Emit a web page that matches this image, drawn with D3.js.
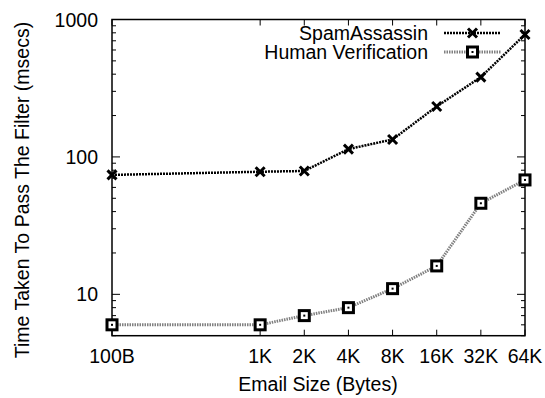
<!DOCTYPE html>
<html>
<head>
<meta charset="utf-8">
<script src="https://cdn.jsdelivr.net/npm/d3@7"></script>
<style>
body { margin: 0; background: #fff; }
text { font-family: "Liberation Sans", Arial, sans-serif; fill: #000; }
</style>
</head>
<body>
<script>
// email sizes in bytes
var sizes = [100, 1024, 2048, 4096, 8192, 16384, 32768, 65536];
var sizeLabels = ["100B", "1K", "2K", "4K", "8K", "16K", "32K", "64K"];
var spamAssassin = [74, 78, 79, 114, 134, 233, 381, 778];
var humanVerif = [6, 6, 7, 8, 11, 16.1, 46, 68];
var yMajor = [10, 100, 1000];

var width = 545, height = 398;
var plotL = 112, plotR = 525, plotT = 19.5, plotB = 335.7;
var fs = 19.5;

var svg = d3.select("body").append("svg")
    .attr("width", width)
    .attr("height", height);

var x = d3.scaleLog().base(2).domain([100, 65536]).range([plotL, plotR]);
var y = d3.scaleLog().domain([5, 1000]).range([plotB, plotT]);

// minor y ticks
var minor = [];
[1, 10, 100].forEach(function(d) {
	for (var k = 2; k <= 9; k++) {
		var v = d * k;
		if (v >= 5 && v <= 1000) minor.push(v);
	}
});

var g = svg.append("g").attr("stroke", "#000").attr("stroke-width", 1);
minor.forEach(function(v) {
	if (yMajor.indexOf(v) >= 0) return;
	g.append("line").attr("x1", plotL).attr("x2", plotL + 4).attr("y1", y(v)).attr("y2", y(v));
	g.append("line").attr("x1", plotR).attr("x2", plotR - 4).attr("y1", y(v)).attr("y2", y(v));
});
yMajor.forEach(function(v) {
	g.append("line").attr("x1", plotL).attr("x2", plotL + 8).attr("y1", y(v)).attr("y2", y(v));
	g.append("line").attr("x1", plotR).attr("x2", plotR - 8).attr("y1", y(v)).attr("y2", y(v));
	svg.append("text").attr("x", 98).attr("y", y(v) + 7)
		.attr("text-anchor", "end").attr("font-size", fs).text(v);
});
sizes.forEach(function(s, i) {
	g.append("line").attr("x1", x(s)).attr("x2", x(s)).attr("y1", plotB).attr("y2", plotB - 6);
	g.append("line").attr("x1", x(s)).attr("x2", x(s)).attr("y1", plotT).attr("y2", plotT + 6);
	svg.append("text").attr("x", x(s)).attr("y", 363.3)
		.attr("text-anchor", "middle").attr("font-size", fs).text(sizeLabels[i]);
});

// frame
svg.append("rect").attr("x", plotL).attr("y", plotT)
	.attr("width", plotR - plotL).attr("height", plotB - plotT)
	.attr("fill", "none").attr("stroke", "#000").attr("stroke-width", 1.5);

// axis titles
svg.append("text").attr("x", 318).attr("y", 391)
	.attr("text-anchor", "middle").attr("font-size", fs).text("Email Size (Bytes)");
svg.append("text").attr("transform", "translate(29,190) rotate(-90)")
	.attr("text-anchor", "middle").attr("font-size", fs).text("Time Taken To Pass The Filter (msecs)");

var line = d3.line().x(function(d) { return x(d[0]); }).y(function(d) { return y(d[1]); });

var spamPts = sizes.map(function(s, i) { return [s, spamAssassin[i]]; });
var humanPts = sizes.map(function(s, i) { return [s, humanVerif[i]]; });

function crossMark(sel, cx, cy) {
	var r = 4.5;
	sel.append("path")
		.attr("d", "M" + (cx - r) + "," + (cy - r) + "L" + (cx + r) + "," + (cy + r) +
			"M" + (cx - r) + "," + (cy + r) + "L" + (cx + r) + "," + (cy - r))
		.attr("stroke", "#000").attr("stroke-width", 3).attr("fill", "none");
}
function squareMark(sel, cx, cy) {
	sel.append("rect").attr("x", cx - 5).attr("y", cy - 5).attr("width", 10).attr("height", 10)
		.attr("fill", "#fff").attr("stroke", "#000").attr("stroke-width", 3);
	sel.append("rect").attr("x", cx - 1).attr("y", cy - 1).attr("width", 2).attr("height", 2)
		.attr("fill", "#000");
}

// Human Verification series
svg.append("path").datum(humanPts).attr("d", line)
	.attr("fill", "none").attr("stroke", "#808080").attr("stroke-width", 3)
	.attr("stroke-dasharray", "1.5,1");
var hm = svg.append("g");
humanPts.forEach(function(p) { squareMark(hm, x(p[0]), y(p[1])); });

// SpamAssassin series
svg.append("path").datum(spamPts).attr("d", line)
	.attr("fill", "none").attr("stroke", "#000").attr("stroke-width", 2.5)
	.attr("stroke-dasharray", "2,1");
var sm = svg.append("g");
spamPts.forEach(function(p) { crossMark(sm, x(p[0]), y(p[1])); });

// legend
var legend = [
	{name: "SpamAssassin", y: 33, color: "#000", w: 2.5, mark: crossMark},
	{name: "Human Verification", y: 52, color: "#808080", w: 3, mark: squareMark}
];
legend.forEach(function(d) {
	svg.append("text").attr("x", 428).attr("y", d.y + 7)
		.attr("text-anchor", "end").attr("font-size", fs).text(d.name);
	svg.append("line").attr("x1", 444).attr("x2", 501).attr("y1", d.y).attr("y2", d.y)
		.attr("stroke", d.color).attr("stroke-width", d.w).attr("stroke-dasharray", d.w === 3 ? "1.5,1" : "2,1");
	d.mark(svg, 472.5, d.y);
});
</script>
</body>
</html>
